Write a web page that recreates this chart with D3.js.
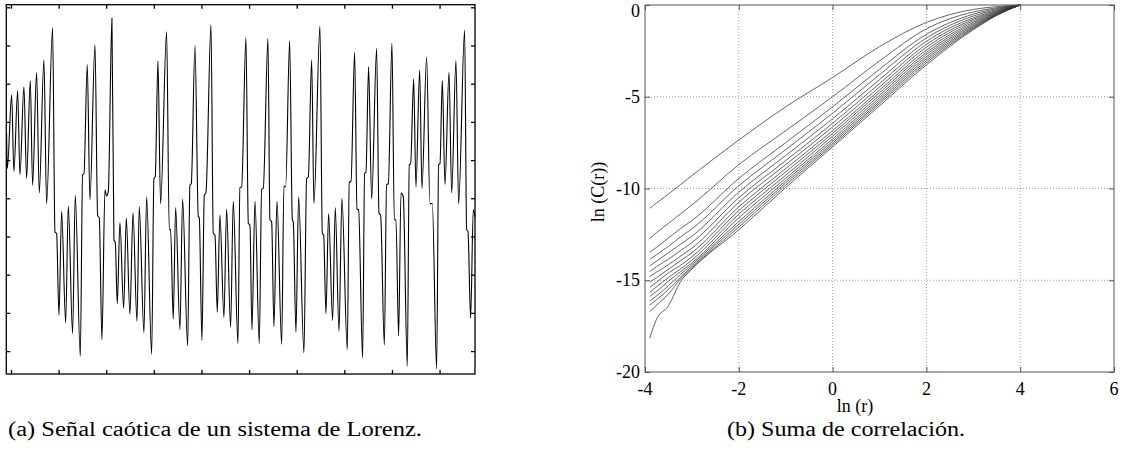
<!DOCTYPE html>
<html>
<head>
<meta charset="utf-8">
<script src="https://cdn.jsdelivr.net/npm/d3@7"></script>
<style>
    body { margin: 0; background: #fff; }
</style>
</head>
<body>
<svg id="fig" width="1125" height="452"></svg>
<script>
//Left: Lorenz signal (sample index, amplitude)
const lorenzN = [-46, -38, 7, 31, 70, 94, 136, 164, 203, 227, 269, 297, 346, 374, 437, 462, 479, 504, 532, 574,
    602, 647, 675, 728, 752, 766, 801, 829, 882, 910, 927, 955, 987, 1004, 1022, 1060, 1081, 1095, 1116, 1144,
    1183, 1211, 1249, 1281, 1323, 1347, 1396, 1424, 1477, 1501, 1515, 1543, 1571, 1634, 1662, 1676, 1704, 1729, 1774, 1802,
    1855, 1879, 1893, 1932, 1967, 1977, 2005, 2030, 2047, 2100, 2124, 2142, 2166, 2194, 2236, 2264, 2306, 2334, 2383, 2404,
    2422, 2467, 2492, 2509, 2530, 2562, 2607, 2632, 2649, 2698, 2719, 2737, 2761, 2793, 2842, 2866, 2884, 2926, 2954, 2964,
    2992, 3020, 3076, 3104, 3122, 3157, 3181, 3244, 3269, 3283, 3307, 3335, 3377, 3405, 3444, 3475, 3531, 3552, 3570, 3608,
    3633, 3650, 3692, 3713, 3727, 3755, 3787, 3839, 3864, 3881, 3920, 3944, 3962, 4000, 4025, 4042, 4070, 4095, 4119, 4161,
    4182, 4196, 4228, 4252, 4291, 4315, 4364, 4399, 4424, 4469, 4490, 4504, 4529, 4557, 4599, 4627, 4672, 4700, 4763, 4784,
    4798, 4826, 4854, 4872];
const lorenzV = [8.5, 3.9, 13.5, 3.5, 14.1, 3.1, 14.6, 2.6, 15.4, 1.7, 16.5, 0.7, 18.1, -0.7, 22.3, -4.4, -4.6, -15.3, -1.7, -16.3,
    -1.0, -17.7, 0.4, -20.7, 3.1, 3.2, 17.5, -0.2, 20.1, -2.3, -2.5, -18.5, 1.1, 0.3, 0.9, 23.6, -5.5, -5.7, -13.8, -3.2,
    -14.4, -2.6, -15.2, -1.9, -16.1, -1.1, -17.6, 0.2, -20.4, 2.6, 2.8, 18.0, -0.7, 21.8, -4.1, -4.1, -15.8, -1.2, -17.2, -0.1,
    -19.3, 1.7, 1.9, 20.0, -2.4, -2.5, -18.6, 0.4, 0.7, 22.7, -4.6, -4.8, -14.9, -2.2, -15.6, -1.4, -16.9, -0.4, -19.0, 1.4,
    1.5, 21.0, -3.3, -3.5, -17.2, -0.4, -19.0, 1.2, 1.3, 20.9, -2.8, -3.1, -16.8, -0.4, -19.1, 1.6, 1.5, 20.6, -2.8, -3.1,
    -17.5, 0.2, -20.2, 2.6, 2.8, 18.1, -0.7, 22.5, -4.6, -4.8, -15.1, -2.0, -16.0, -1.2, -17.4, 0.0, -19.8, 2.1, 2.2, 19.1,
    -1.4, -1.5, -20.9, 3.3, 3.4, 17.2, -0.1, 19.6, -2.0, -2.2, -19.2, 1.8, 1.9, 20.3, -2.8, -2.8, -18.0, 0.7, 0.2, -22.0,
    4.4, 4.5, 15.6, 1.5, 16.8, 1.3, 18.5, -0.7, -0.7, -22.3, 4.4, 4.5, 15.4, 1.8, 16.5, 0.7, 18.0, -0.7, 22.0, -4.1,
    -4.3, -15.7, -1.5, -2.4];
const lorenzXTicks = d3.range(0, 4501, 500);
const lorenzYTicks = d3.range(-20, 26, 5);

//Right: correlation sums, one row per embedding dimension
const lnR = [-3.9, -3.75, -3.5, -3.25, -3, -2, -1, 0, 1, 2, 3, 3.5, 4];
const lnC = [
    [-11.08, -10.78, -10.3, -9.8, -9.3, -7.36, -5.55, -3.95, -2.27, -0.95, -0.24, -0.09, 0],
    [-12.72, -12.4, -11.9, -11.4, -10.9, -8.7, -6.85, -5.0, -3.05, -1.3, -0.38, -0.15, 0],
    [-13.48, -13.2, -12.7, -12.2, -11.75, -9.45, -7.5, -5.55, -3.5, -1.6, -0.5, -0.2, 0],
    [-13.86, -13.6, -13.15, -12.65, -12.2, -9.85, -7.88, -5.9, -3.8, -1.8, -0.6, -0.25, 0],
    [-14.22, -13.95, -13.5, -13.05, -12.6, -10.2, -8.2, -6.2, -4.07, -1.98, -0.7, -0.29, 0],
    [-14.53, -14.25, -13.85, -13.4, -12.95, -10.5, -8.48, -6.45, -4.28, -2.15, -0.78, -0.33, 0],
    [-14.8, -14.55, -14.15, -13.7, -13.25, -10.75, -8.7, -6.65, -4.47, -2.3, -0.86, -0.37, 0],
    [-15.11, -14.85, -14.4, -13.95, -13.5, -11.0, -8.92, -6.85, -4.64, -2.45, -0.94, -0.4, 0],
    [-15.39, -15.1, -14.6, -14.2, -13.72, -11.2, -9.1, -7.0, -4.78, -2.58, -1.01, -0.43, 0],
    [-15.66, -15.35, -14.85, -14.4, -13.9, -11.4, -9.28, -7.15, -4.92, -2.7, -1.08, -0.46, 0],
    [-15.89, -15.6, -15.05, -14.55, -14.05, -11.6, -9.44, -7.3, -5.05, -2.82, -1.14, -0.49, 0],
    [-16.13, -15.85, -15.3, -14.7, -14.15, -11.8, -9.58, -7.42, -5.17, -2.93, -1.2, -0.51, 0],
    [-16.35, -16.05, -15.5, -14.85, -14.25, -11.95, -9.7, -7.53, -5.28, -3.04, -1.25, -0.53, 0],
    [-16.71, -16.35, -15.75, -14.95, -14.33, -12.1, -9.82, -7.63, -5.38, -3.15, -1.3, -0.55, 0],
    [-18.17, -17.1, -16.4, -15.1, -14.4, -12.25, -9.95, -7.73, -5.5, -3.26, -1.35, -0.57, 0]
];
const corrXTicks = [-4, -2, 0, 2, 4, 6];
const corrYTicks = [-20, -15, -10, -5, 0];

const serif = "'Liberation Serif', Tinos, 'Times New Roman', Times, serif";
const svg = d3.select("#fig");

//Box with inward ticks on all four sides (matlab style)
function boxAxes(g, x, y, xt, yt, len, col, w) {
    let [x0, x1] = x.range();
    let [y0, y1] = y.range();
    g.append("g").call(d3.axisTop(x).tickValues(xt).tickSize(len).tickFormat(""))
        .attr("transform", `translate(0,${y0})`);
    g.append("g").call(d3.axisBottom(x).tickValues(xt).tickSize(len).tickFormat(""))
        .attr("transform", `translate(0,${y1})`);
    g.append("g").call(d3.axisRight(y).tickValues(yt).tickSize(len).tickFormat(""))
        .attr("transform", `translate(${x0},0)`);
    g.append("g").call(d3.axisLeft(y).tickValues(yt).tickSize(len).tickFormat(""))
        .attr("transform", `translate(${x1},0)`);
    g.selectAll(".domain").remove();
    g.selectAll(".tick line").attr("stroke", col).attr("stroke-width", w);
    g.append("rect")
        .attr("x", x0).attr("y", y1)
        .attr("width", x1 - x0).attr("height", y0 - y1)
        .attr("fill", "none").attr("stroke", col).attr("stroke-width", w);
}

//---- (a) Lorenz signal
let xa = d3.scaleLinear().domain([-49, 4872]).range([6.3, 475]);
let ya = d3.scaleLinear().domain([-23.0, 25.34]).range([374, 4.7]);
let ga = svg.append("g");

ga.append("path")
    .datum(d3.zip(lorenzN, lorenzV))
    .attr("fill", "none")
    .attr("stroke", "#000")
    .attr("stroke-width", 1.1)
    .attr("d", d3.line().x(d => xa(d[0])).y(d => ya(d[1])).curve(d3.curveMonotoneX));

boxAxes(ga, xa, ya, lorenzXTicks, lorenzYTicks, 4, "#000", 1.3);

//---- (b) correlation sum
let xb = d3.scaleLinear().domain([-4, 6]).range([645, 1114]);
let yb = d3.scaleLinear().domain([-20, 0]).range([372, 5]);
let gb = svg.append("g");

//dotted grid
gb.selectAll("line.gx")
    .data(corrXTicks.slice(1, -1))
    .enter().append("line")
    .attr("x1", d => xb(d)).attr("x2", d => xb(d))
    .attr("y1", yb(-20)).attr("y2", yb(0))
    .attr("stroke", "#888").attr("stroke-width", 0.8).attr("stroke-dasharray", "1,2");
gb.selectAll("line.gy")
    .data(corrYTicks.slice(1, -1))
    .enter().append("line")
    .attr("y1", d => yb(d)).attr("y2", d => yb(d))
    .attr("x1", xb(-4)).attr("x2", xb(6))
    .attr("stroke", "#888").attr("stroke-width", 0.8).attr("stroke-dasharray", "1,2");

let lineB = d3.line().x(d => xb(d[0])).y(d => yb(d[1])).curve(d3.curveMonotoneX);
gb.selectAll("path.curve")
    .data(lnC)
    .enter().append("path")
    .attr("class", "curve")
    .attr("fill", "none")
    .attr("stroke", "#333")
    .attr("stroke-width", 0.75)
    .attr("d", row => lineB(d3.zip(lnR, row)));

boxAxes(gb, xb, yb, corrXTicks, corrYTicks, 5, "#555", 1);

//tick labels
gb.selectAll("text.xl")
    .data(corrXTicks)
    .enter().append("text")
    .attr("x", d => xb(d)).attr("y", 395)
    .attr("text-anchor", "middle")
    .attr("font-family", serif)
    .attr("font-size", 18)
    .text(d => d);
gb.selectAll("text.yl")
    .data(corrYTicks)
    .enter().append("text")
    .attr("x", 640).attr("y", d => Math.max(yb(d) + 6, 17))
    .attr("text-anchor", "end")
    .attr("font-family", serif)
    .attr("font-size", 18)
    .text(d => d);

gb.append("text")
    .attr("x", 855).attr("y", 412)
    .attr("text-anchor", "middle")
    .attr("font-family", serif)
    .attr("font-size", 18)
    .text("ln (r)");
gb.append("text")
    .attr("transform", "translate(604,192) rotate(-90)")
    .attr("text-anchor", "middle")
    .attr("font-family", serif)
    .attr("font-size", 18)
    .text("ln (C(r))");

//captions
svg.append("text")
    .attr("x", 8).attr("y", 436)
    .attr("font-family", serif)
    .attr("font-size", 20)
    .attr("textLength", 414).attr("lengthAdjust", "spacingAndGlyphs")
    .text("(a)  Señal caótica de un sistema de Lorenz.");
svg.append("text")
    .attr("x", 727).attr("y", 436)
    .attr("font-family", serif)
    .attr("font-size", 20)
    .attr("textLength", 238).attr("lengthAdjust", "spacingAndGlyphs")
    .text("(b)  Suma de correlación.");
</script>
</body>
</html>
